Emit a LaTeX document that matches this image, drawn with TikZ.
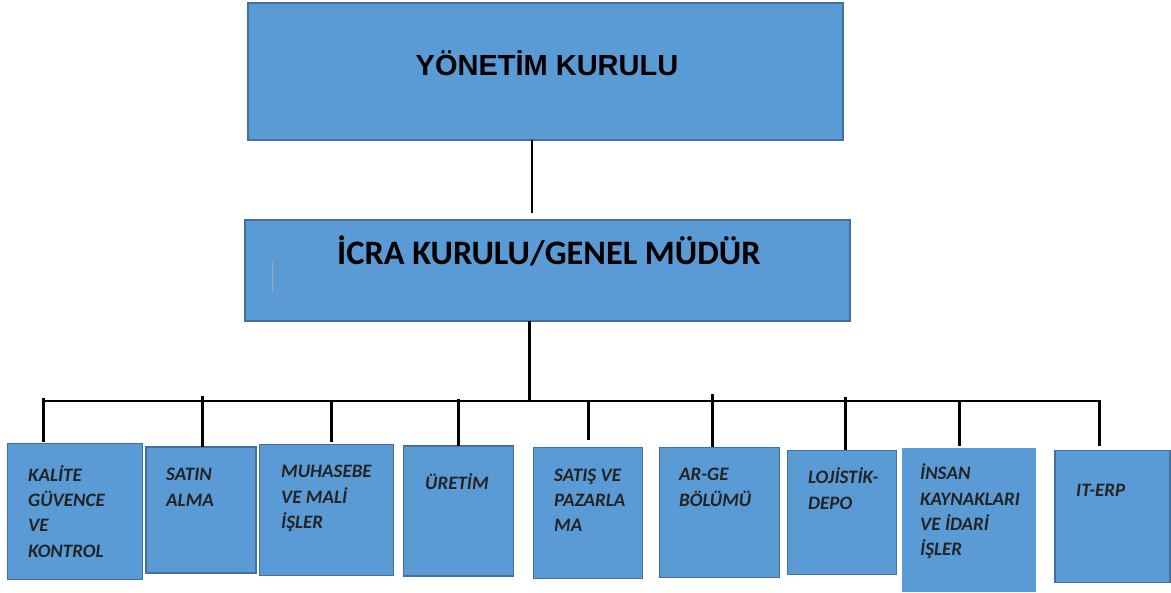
\documentclass[tikz,border=0pt]{standalone}
\usepackage{fontspec}
\setmainfont{Carlito}
\newfontfamily\arialfont{Liberation Sans}
\usetikzlibrary{calc}
\definecolor{boxfill}{RGB}{91,155,213}
\definecolor{boxedge}{RGB}{65,113,156}
\definecolor{txt}{RGB}{35,35,35}
\tikzset{
  box/.style={draw=boxedge, line width=1.6pt, fill=boxfill, anchor=north west, inner sep=0pt, outer sep=0pt},
  lbl/.style={anchor=base west, inner sep=0pt, align=left, text=txt,
    font=\fontsize{19}{25.5}\selectfont\bfseries\itshape},
  conn/.style={line width=3pt, black},
  bus/.style={line width=2pt, black}
}
\begin{document}
\begin{tikzpicture}[x=1pt,y=-1pt]
\useasboundingbox (0,0) rectangle (1171,593);
% main boxes
\node[box, minimum width=595pt, minimum height=137pt] (yk) at (248,3) {};
\node[anchor=base, inner sep=0pt, font=\arialfont\fontsize{29}{34}\selectfont\bfseries] (ykt) at (547,76) {YÖNETİM KURULU};
\node[box, minimum width=605pt, minimum height=101pt] (icra) at (245,220) {};
\node[anchor=base west, inner sep=0pt, font=\fontsize{34.3}{40}\selectfont\bfseries] (icrat) at (337,265) {İCRA KURULU/GENEL MÜDÜR};
\draw[gray!70, line width=0.5pt] (272,262) -- (272,292);
% department boxes
\node[box, minimum width=135pt, minimum height=136pt] (b1) at (7.5,443.5) {};
\node[box, minimum width=110pt, minimum height=126pt] (b2) at (146,447) {};
\node[box, minimum width=134pt, minimum height=131pt] (b3) at (259.5,444.5) {};
\node[box, minimum width=110pt, minimum height=130pt] (b4) at (403.5,446) {};
\node[box, minimum width=109pt, minimum height=131pt] (b5) at (533.5,447.5) {};
\node[box, minimum width=120pt, minimum height=130pt] (b6) at (659.5,447.5) {};
\node[box, minimum width=109pt, minimum height=124pt] (b7) at (787.5,450.5) {};
\node[box, draw=none, minimum width=134pt, minimum height=144pt] (b8) at (902,448) {};
\node[box, minimum width=115pt, minimum height=132pt] (b9) at (1055,450.5) {};
% labels (anchor = baseline of the last line)
\node[lbl] (l1) at (28,557.5) {KALİTE\\GÜVENCE\\VE\\KONTROL};
\node[lbl] (l2) at (166,506.5) {SATIN\\ALMA};
\node[lbl] (l3) at (281,529) {MUHASEBE\\VE MALİ\\İŞLER};
\node[lbl] (l4) at (425,490) {ÜRETİM};
\node[lbl] (l5) at (554,532) {SATIŞ VE\\PAZARLA\\MA};
\node[lbl] (l6) at (679,506.5) {AR-GE\\BÖLÜMÜ};
\node[lbl] (l7) at (808,509.5) {LOJİSTİK-\\DEPO};
\node[lbl] (l8) at (920,556) {İNSAN\\KAYNAKLARI\\VE İDARİ\\İŞLER};
\node[lbl] (l9) at (1076,497) {IT-ERP};
% connectors
\coordinate (t) at (532,0);
\draw[conn, line width=2.6pt, shorten >=7pt] (t |- yk.south) -- (t |- icra.north);
\coordinate (busL) at (43,401);
\coordinate (busR) at (1099,401);
\coordinate (stem) at (529,401);
\draw[conn] (stem |- icra.south) -- (stem);
\draw[bus] (busL) -- (busR);
\coordinate (d1) at (43,398);
\coordinate (d2) at (202,396);
\coordinate (d3) at (331,400);
\coordinate (d4) at (458,399);
\coordinate (d5) at (588,400);
\coordinate (d6) at (712,394);
\coordinate (d7) at (845,397);
\coordinate (d8) at (959,400);
\coordinate (d9) at (1099,400);
\draw[conn, shorten >=1pt] (d1) -- (d1 |- b1.north);
\draw[conn] (d2) -- (d2 |- b2.north);
\draw[conn, shorten >=2pt] (d3) -- (d3 |- b3.north);
\draw[conn] (d4) -- (d4 |- b4.north);
\draw[conn, shorten >=7pt] (d5) -- (d5 |- b5.north);
\draw[conn] (d6) -- (d6 |- b6.north);
\draw[conn] (d7) -- (d7 |- b7.north);
\draw[conn, shorten >=2pt] (d8) -- (d8 |- b8.north);
\draw[conn, shorten >=4pt] (d9) -- (d9 |- b9.north);
\end{tikzpicture}
\end{document}
